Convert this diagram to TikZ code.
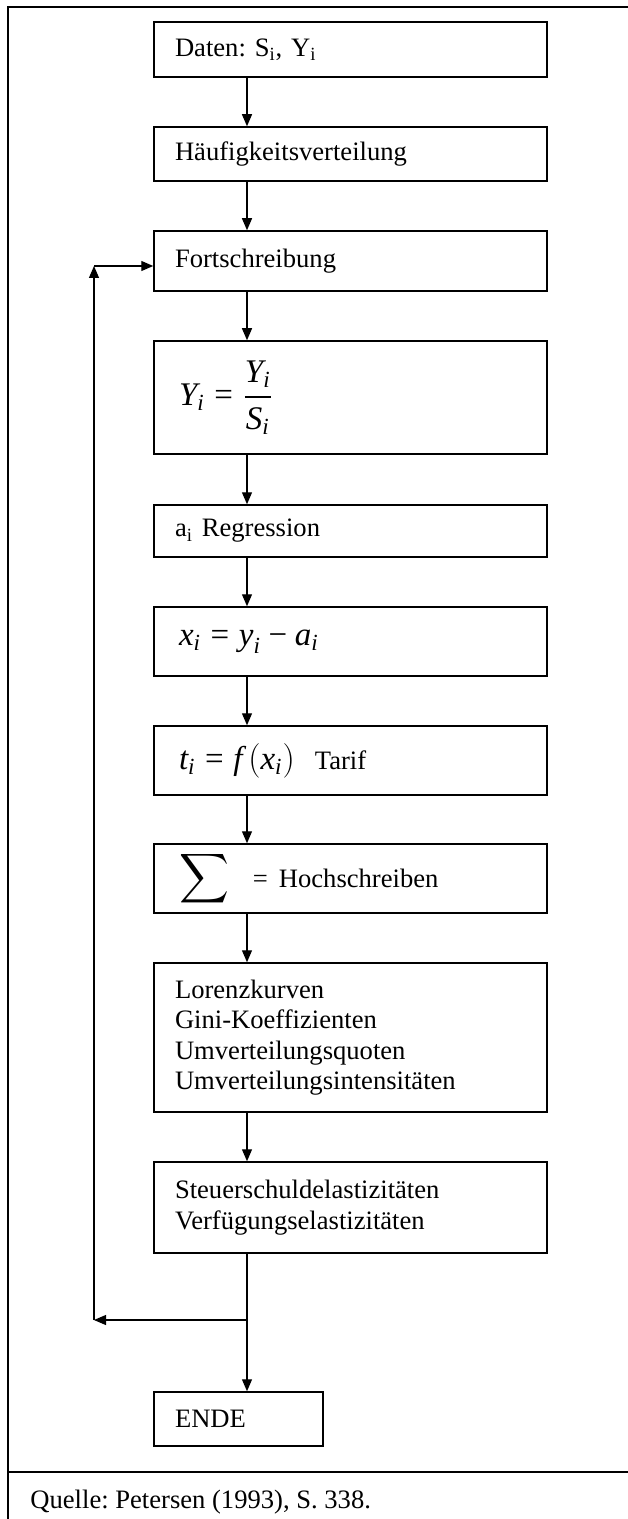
\documentclass[tikz,border=0pt]{standalone}
\usepackage{amsmath}
\usepackage{fontspec}
\setmainfont{Liberation Serif}
\usepackage{tikz}
\usetikzlibrary{shapes,arrows,arrows.meta}
\frenchspacing

\newcommand{\mi}[1]{\textit{#1}}
\newcommand{\eqs}{\mathrel{\textrm{=}}}
\newcommand{\mns}{\mathbin{\textrm{−}}}

\begin{document}
\begin{tikzpicture}[
        x=0.5pt, y=-0.5pt,
        >={Triangle[length=6pt,width=5pt]},
        flowbox/.style={draw, line width=0.75pt, rectangle, align=left,
            text width=175.5pt, inner xsep=10.5pt, inner ysep=0pt,
            font=\fontsize{13.3}{15.2}\selectfont},
        formula/.style={font=\fontsize{16.5}{19}\selectfont},
        flow/.style={->, line width=0.6pt},
        frame/.style={line width=1pt},
    ]
    \useasboundingbox (0,0) rectangle (627,1519);

    %Draw the outer frame and the source line
    \draw [frame] (640,7) -- (8,7) -- (8,1530);
    \draw [frame] (8,1472) -- (640,1472);
    \node [anchor=base west, inner sep=0pt, font=\fontsize{13.3}{15.2}\selectfont] (quelle) at (30,1508) {Quelle: Petersen (1993), S. 338.};

    %Draw the boxes
    \node [flowbox, minimum height=27.5pt] (daten) at (350.5,49.5) {Daten: S\textsubscript{i}, Y\textsubscript{i}};
    \node [flowbox, minimum height=27pt] (haeuf) at (350.5,154) {Häufigkeitsverteilung};
    \node [flowbox, minimum height=30pt] (fort) at (350.5,261) {Fortschreibung};
    \node [flowbox, formula, minimum height=56.5pt] (quot) at (350.5,397.5) {\hspace{2pt}$\mi{Y}_{\mi{i}} \eqs \dfrac{\mi{Y}_{\mi{i}}}{\mi{S}_{\mi{i}}}$};
    \node [flowbox, minimum height=26pt] (regr) at (350.5,531) {a\textsubscript{i} Regression};
    \node [flowbox, formula, minimum height=34.5pt] (diff) at (350.5,641.5) {\hspace{2pt}$\mi{x}_{\mi{i}} \eqs \mi{y}_{\mi{i}} \mns \mi{a}_{\mi{i}}$};
    \node [flowbox, formula, minimum height=34.5pt] (tarif) at (350.5,760.5) {\hspace{2pt}$\mi{t}_{\mi{i}} \eqs \mi{f}\left(\mi{x}_{\mi{i}}\right)$\hspace{10pt}{\fontsize{13.3}{15.2}\selectfont Tarif}};
    \node [flowbox, formula, minimum height=34.5pt] (hoch) at (350.5,878.5) {\hspace{2pt}$\displaystyle\sum$\hspace{12pt}{\fontsize{13.3}{15.2}\selectfont = Hochschreiben}};
    \node [flowbox, minimum height=74.5pt] (lorenz) at (350.5,1037.5) {Lorenzkurven\\Gini-Koeffizienten\\Umverteilungsquoten\\Umverteilungsintensitäten};
    \node [flowbox, minimum height=45.5pt] (elast) at (350.5,1207.5) {Steuerschuldelastizitäten\\Verfügungselastizitäten};
    \node [flowbox, text width=63.5pt, minimum height=27pt] (ende) at (238.5,1419) {ENDE};

    %Draw the arrows between the boxes
    \coordinate (col) at (247,0);
    \draw [flow] (daten.south -| col) -- (haeuf.north -| col);
    \draw [flow] (haeuf.south -| col) -- (fort.north -| col);
    \draw [flow] (fort.south -| col) -- (quot.north -| col);
    \draw [flow] (quot.south -| col) -- (regr.north -| col);
    \draw [flow] (regr.south -| col) -- (diff.north -| col);
    \draw [flow] (diff.south -| col) -- (tarif.north -| col);
    \draw [flow] (tarif.south -| col) -- (hoch.north -| col);
    \draw [flow] (hoch.south -| col) -- (lorenz.north -| col);
    \draw [flow] (lorenz.south -| col) -- (elast.north -| col);
    \draw [flow] (elast.south -| col) -- (ende.north -| col);

    %Draw the loop back to Fortschreibung
    \coordinate (split) at (247,1320);
    \coordinate (loopbot) at (94,1320);
    \coordinate (looptop) at (94,266);
    \draw [flow] (split) -- (loopbot);
    \draw [flow] (loopbot) -- (looptop);
    \draw [flow] (looptop) -- (fort.west |- looptop);
\end{tikzpicture}
\end{document}
